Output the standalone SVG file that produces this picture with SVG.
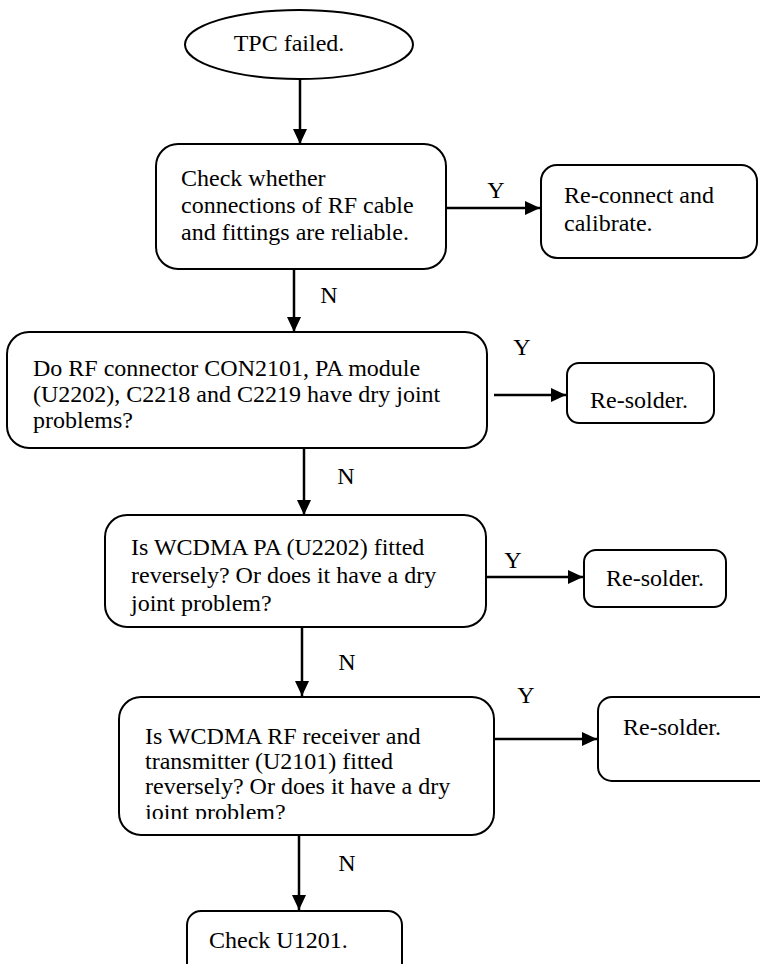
<svg xmlns="http://www.w3.org/2000/svg" width="760" height="964" viewBox="0 0 760 964">
  <style>
    .box { fill: #ffffff; stroke: #000000; stroke-width: 2; }
    .txt { font-family: 'Liberation Serif', 'Times New Roman', Times, 'DejaVu Serif', serif; font-size: 24px; fill: #000000; }
    .edge { stroke: #000000; stroke-width: 2.5; fill: none; marker-end: url(#head); }
  </style>
  <defs>
    <marker id="head" markerUnits="userSpaceOnUse" markerWidth="16" markerHeight="16" viewBox="0 0 16 16" refX="15" refY="8" orient="auto">
      <path d="M0,1 L15,8 L0,15 Z" fill="#000000"/>
    </marker>
    <clipPath id="clip4">
      <rect x="119" y="697" width="375" height="122"/>
    </clipPath>
  </defs>

  <rect width="760" height="964" fill="#ffffff"/>

  <!-- connectors and their Y / N labels -->
  <g id="connectors">
    <line class="edge" x1="300" y1="79" x2="300" y2="144"/>
    <line class="edge" x1="446" y1="208" x2="540" y2="208"/>
    <text class="txt" x="496" y="198" text-anchor="middle">Y</text>
    <line class="edge" x1="294" y1="269" x2="294" y2="332"/>
    <text class="txt" x="329" y="303" text-anchor="middle">N</text>
    <line class="edge" x1="494" y1="395" x2="566" y2="395"/>
    <text class="txt" x="522" y="355" text-anchor="middle">Y</text>
    <line class="edge" x1="304" y1="448" x2="304" y2="515"/>
    <text class="txt" x="346" y="484" text-anchor="middle">N</text>
    <line class="edge" x1="487" y1="577" x2="583" y2="577"/>
    <text class="txt" x="513" y="568" text-anchor="middle">Y</text>
    <line class="edge" x1="302" y1="627" x2="302" y2="696"/>
    <text class="txt" x="347" y="670" text-anchor="middle">N</text>
    <line class="edge" x1="494" y1="739" x2="597" y2="739"/>
    <text class="txt" x="526" y="703" text-anchor="middle">Y</text>
    <line class="edge" x1="299" y1="835" x2="299" y2="910"/>
    <text class="txt" x="347" y="871" text-anchor="middle">N</text>
  </g>

  <!-- start -->
  <g id="start">
    <ellipse class="box" cx="299" cy="44.5" rx="114" ry="34.5"/>
    <text class="txt" x="289" y="51" text-anchor="middle">TPC failed.</text>
  </g>

  <!-- check RF cable connections -->
  <g id="check-cable">
    <rect class="box" x="156" y="144" width="290" height="125" rx="22"/>
    <text class="txt" x="181" y="186">Check whether</text>
    <text class="txt" x="181" y="213">connections of RF cable</text>
    <text class="txt" x="181" y="240">and fittings are reliable.</text>
  </g>

  <g id="reconnect">
    <rect class="box" x="541" y="165" width="216" height="93" rx="16"/>
    <text class="txt" x="564" y="203">Re-connect and</text>
    <text class="txt" x="564" y="231">calibrate.</text>
  </g>

  <!-- dry joint on connector / PA / capacitors -->
  <g id="check-dry-joint">
    <rect class="box" x="7" y="332" width="480" height="116" rx="22"/>
    <text class="txt" x="33" y="376">Do RF connector CON2101, PA module</text>
    <text class="txt" x="33" y="402">(U2202), C2218 and C2219 have dry joint</text>
    <text class="txt" x="33" y="428">problems?</text>
  </g>

  <g id="resolder-1">
    <rect class="box" x="567" y="363" width="147" height="60" rx="12"/>
    <text class="txt" x="590" y="408">Re-solder.</text>
  </g>

  <!-- PA orientation -->
  <g id="check-pa">
    <rect class="box" x="105" y="515" width="381" height="112" rx="22"/>
    <text class="txt" x="131" y="555">Is WCDMA PA (U2202) fitted</text>
    <text class="txt" x="131" y="583">reversely? Or does it have a dry</text>
    <text class="txt" x="131" y="611">joint problem?</text>
  </g>

  <g id="resolder-2">
    <rect class="box" x="584" y="550" width="142" height="57" rx="12"/>
    <text class="txt" x="606" y="586">Re-solder.</text>
  </g>

  <!-- transceiver orientation; last line runs past the text frame -->
  <g id="check-transceiver">
    <rect class="box" x="119" y="697" width="375" height="138" rx="22"/>
    <g clip-path="url(#clip4)">
      <text class="txt" x="145" y="744">Is WCDMA RF receiver and</text>
      <text class="txt" x="145" y="769">transmitter (U2101) fitted</text>
      <text class="txt" x="145" y="794">reversely? Or does it have a dry</text>
      <text class="txt" x="145" y="820">joint problem?</text>
    </g>
  </g>

  <g id="resolder-3">
    <rect class="box" x="598" y="697" width="180" height="84" rx="14"/>
    <text class="txt" x="623" y="735">Re-solder.</text>
  </g>

  <!-- end -->
  <g id="check-u1201">
    <rect class="box" x="187" y="911" width="215" height="80" rx="14"/>
    <text class="txt" x="209" y="948">Check U1201.</text>
  </g>
</svg>
